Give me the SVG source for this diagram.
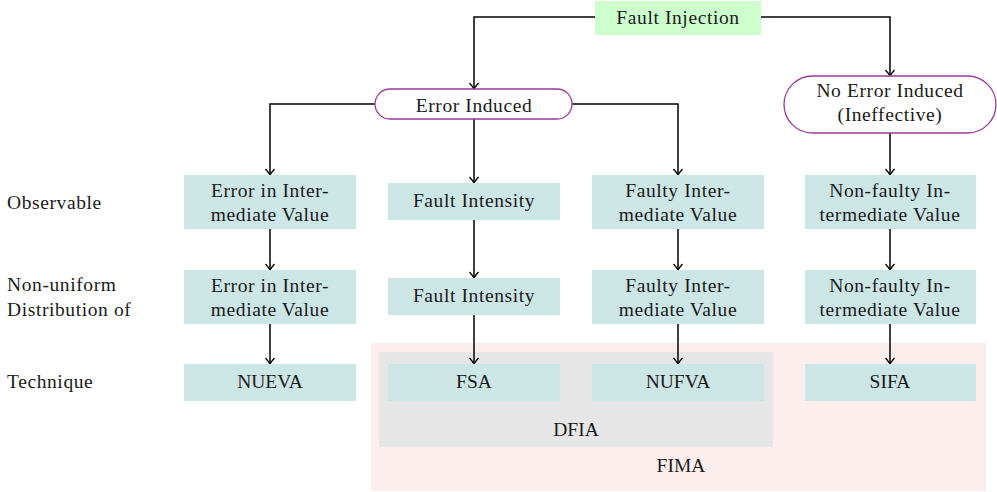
<svg xmlns="http://www.w3.org/2000/svg" width="997" height="492" viewBox="0 0 997 492">
<style>
text{font-size:19.5px;fill:#1a1a1a;letter-spacing:0.6px}
.c{text-anchor:middle}
.k{letter-spacing:0}
.box{fill:#cce5e5}
.term{fill:#fff;stroke:#9a3a9a;stroke-width:1.3}
.ln{fill:none;stroke:#000;stroke-width:1.5;marker-end:url(#ah)}
</style>
<defs>
<marker id="ah" markerWidth="12" markerHeight="12" refX="10" refY="6" orient="auto" markerUnits="userSpaceOnUse">
<path d="M4,1.5 Q8,5 10,6 Q8,7 4,10.5" fill="none" stroke="#000" stroke-width="1.3"/>
</marker>
</defs>
<g font-family="Liberation Serif, DejaVu Serif, serif">
<g id="fima"><rect x="371" y="343" width="615" height="148" fill="#fdeeee"/><text class="c k" x="681" y="472">FIMA</text></g>
<g id="dfia"><rect x="379" y="352" width="394" height="95" fill="#e6e6e6"/><text class="c k" x="576" y="436">DFIA</text></g>
<g id="labels">
<text x="7" y="209">Observable</text>
<text x="7" y="291">Non-uniform</text>
<text x="7" y="316">Distribution of</text>
<text x="7" y="388">Technique</text>
</g>
<g id="connectors">
<path class="ln" d="M595,17 H474 V89"/>
<path class="ln" d="M761,17 H890 V76"/>
<path class="ln" d="M375,104 H270 V175"/>
<path class="ln" d="M474,119 V183"/>
<path class="ln" d="M572,104 H678 V175"/>
<path class="ln" d="M890,133 V175"/>
<path class="ln" d="M270,229 V270"/>
<path class="ln" d="M474,220 V278"/>
<path class="ln" d="M678,229 V270"/>
<path class="ln" d="M890,229 V270"/>
<path class="ln" d="M270,324 V364"/>
<path class="ln" d="M474,315 V364"/>
<path class="ln" d="M678,324 V364"/>
<path class="ln" d="M890,324 V364"/>
</g>
<g id="fault-injection"><rect x="595" y="1" width="166" height="34" fill="#ccffcc"/><text class="c" x="678" y="23.5">Fault Injection</text></g>
<g id="error-induced"><rect class="term" x="375" y="89" width="197" height="30" rx="15"/><text class="c" x="474" y="111.5">Error Induced</text></g>
<g id="no-error-induced"><rect class="term" x="784" y="76" width="212" height="57" rx="28.5"/><text class="c" x="890" y="97">No Error Induced</text><text class="c" x="890" y="121">(Ineffective)</text></g>
<g id="obs-error"><rect class="box" x="184" y="175" width="172" height="54"/><text class="c" x="270" y="197">Error in Inter-</text><text class="c" x="270" y="221">mediate Value</text></g>
<g id="obs-fault"><rect class="box" x="388" y="183" width="172" height="37"/><text class="c" x="474" y="207">Fault Intensity</text></g>
<g id="obs-faulty"><rect class="box" x="592" y="175" width="172" height="54"/><text class="c" x="678" y="197">Faulty Inter-</text><text class="c" x="678" y="221">mediate Value</text></g>
<g id="obs-nonfaulty"><rect class="box" x="805" y="175" width="171" height="54"/><text class="c" x="890" y="197">Non-faulty In-</text><text class="c" x="890" y="221">termediate Value</text></g>
<g id="nud-error"><rect class="box" x="184" y="270" width="172" height="54"/><text class="c" x="270" y="292">Error in Inter-</text><text class="c" x="270" y="316">mediate Value</text></g>
<g id="nud-fault"><rect class="box" x="388" y="278" width="172" height="37"/><text class="c" x="474" y="302">Fault Intensity</text></g>
<g id="nud-faulty"><rect class="box" x="592" y="270" width="172" height="54"/><text class="c" x="678" y="292">Faulty Inter-</text><text class="c" x="678" y="316">mediate Value</text></g>
<g id="nud-nonfaulty"><rect class="box" x="805" y="270" width="171" height="54"/><text class="c" x="890" y="292">Non-faulty In-</text><text class="c" x="890" y="316">termediate Value</text></g>
<g id="nueva"><rect class="box" x="184" y="364" width="172" height="37"/><text class="c k" x="270" y="388">NUEVA</text></g>
<g id="fsa"><rect class="box" x="388" y="364" width="172" height="37"/><text class="c k" x="474" y="388">FSA</text></g>
<g id="nufva"><rect class="box" x="592" y="364" width="172" height="37"/><text class="c k" x="678" y="388">NUFVA</text></g>
<g id="sifa"><rect class="box" x="805" y="364" width="171" height="37"/><text class="c k" x="890" y="388">SIFA</text></g>
</g>
</svg>
